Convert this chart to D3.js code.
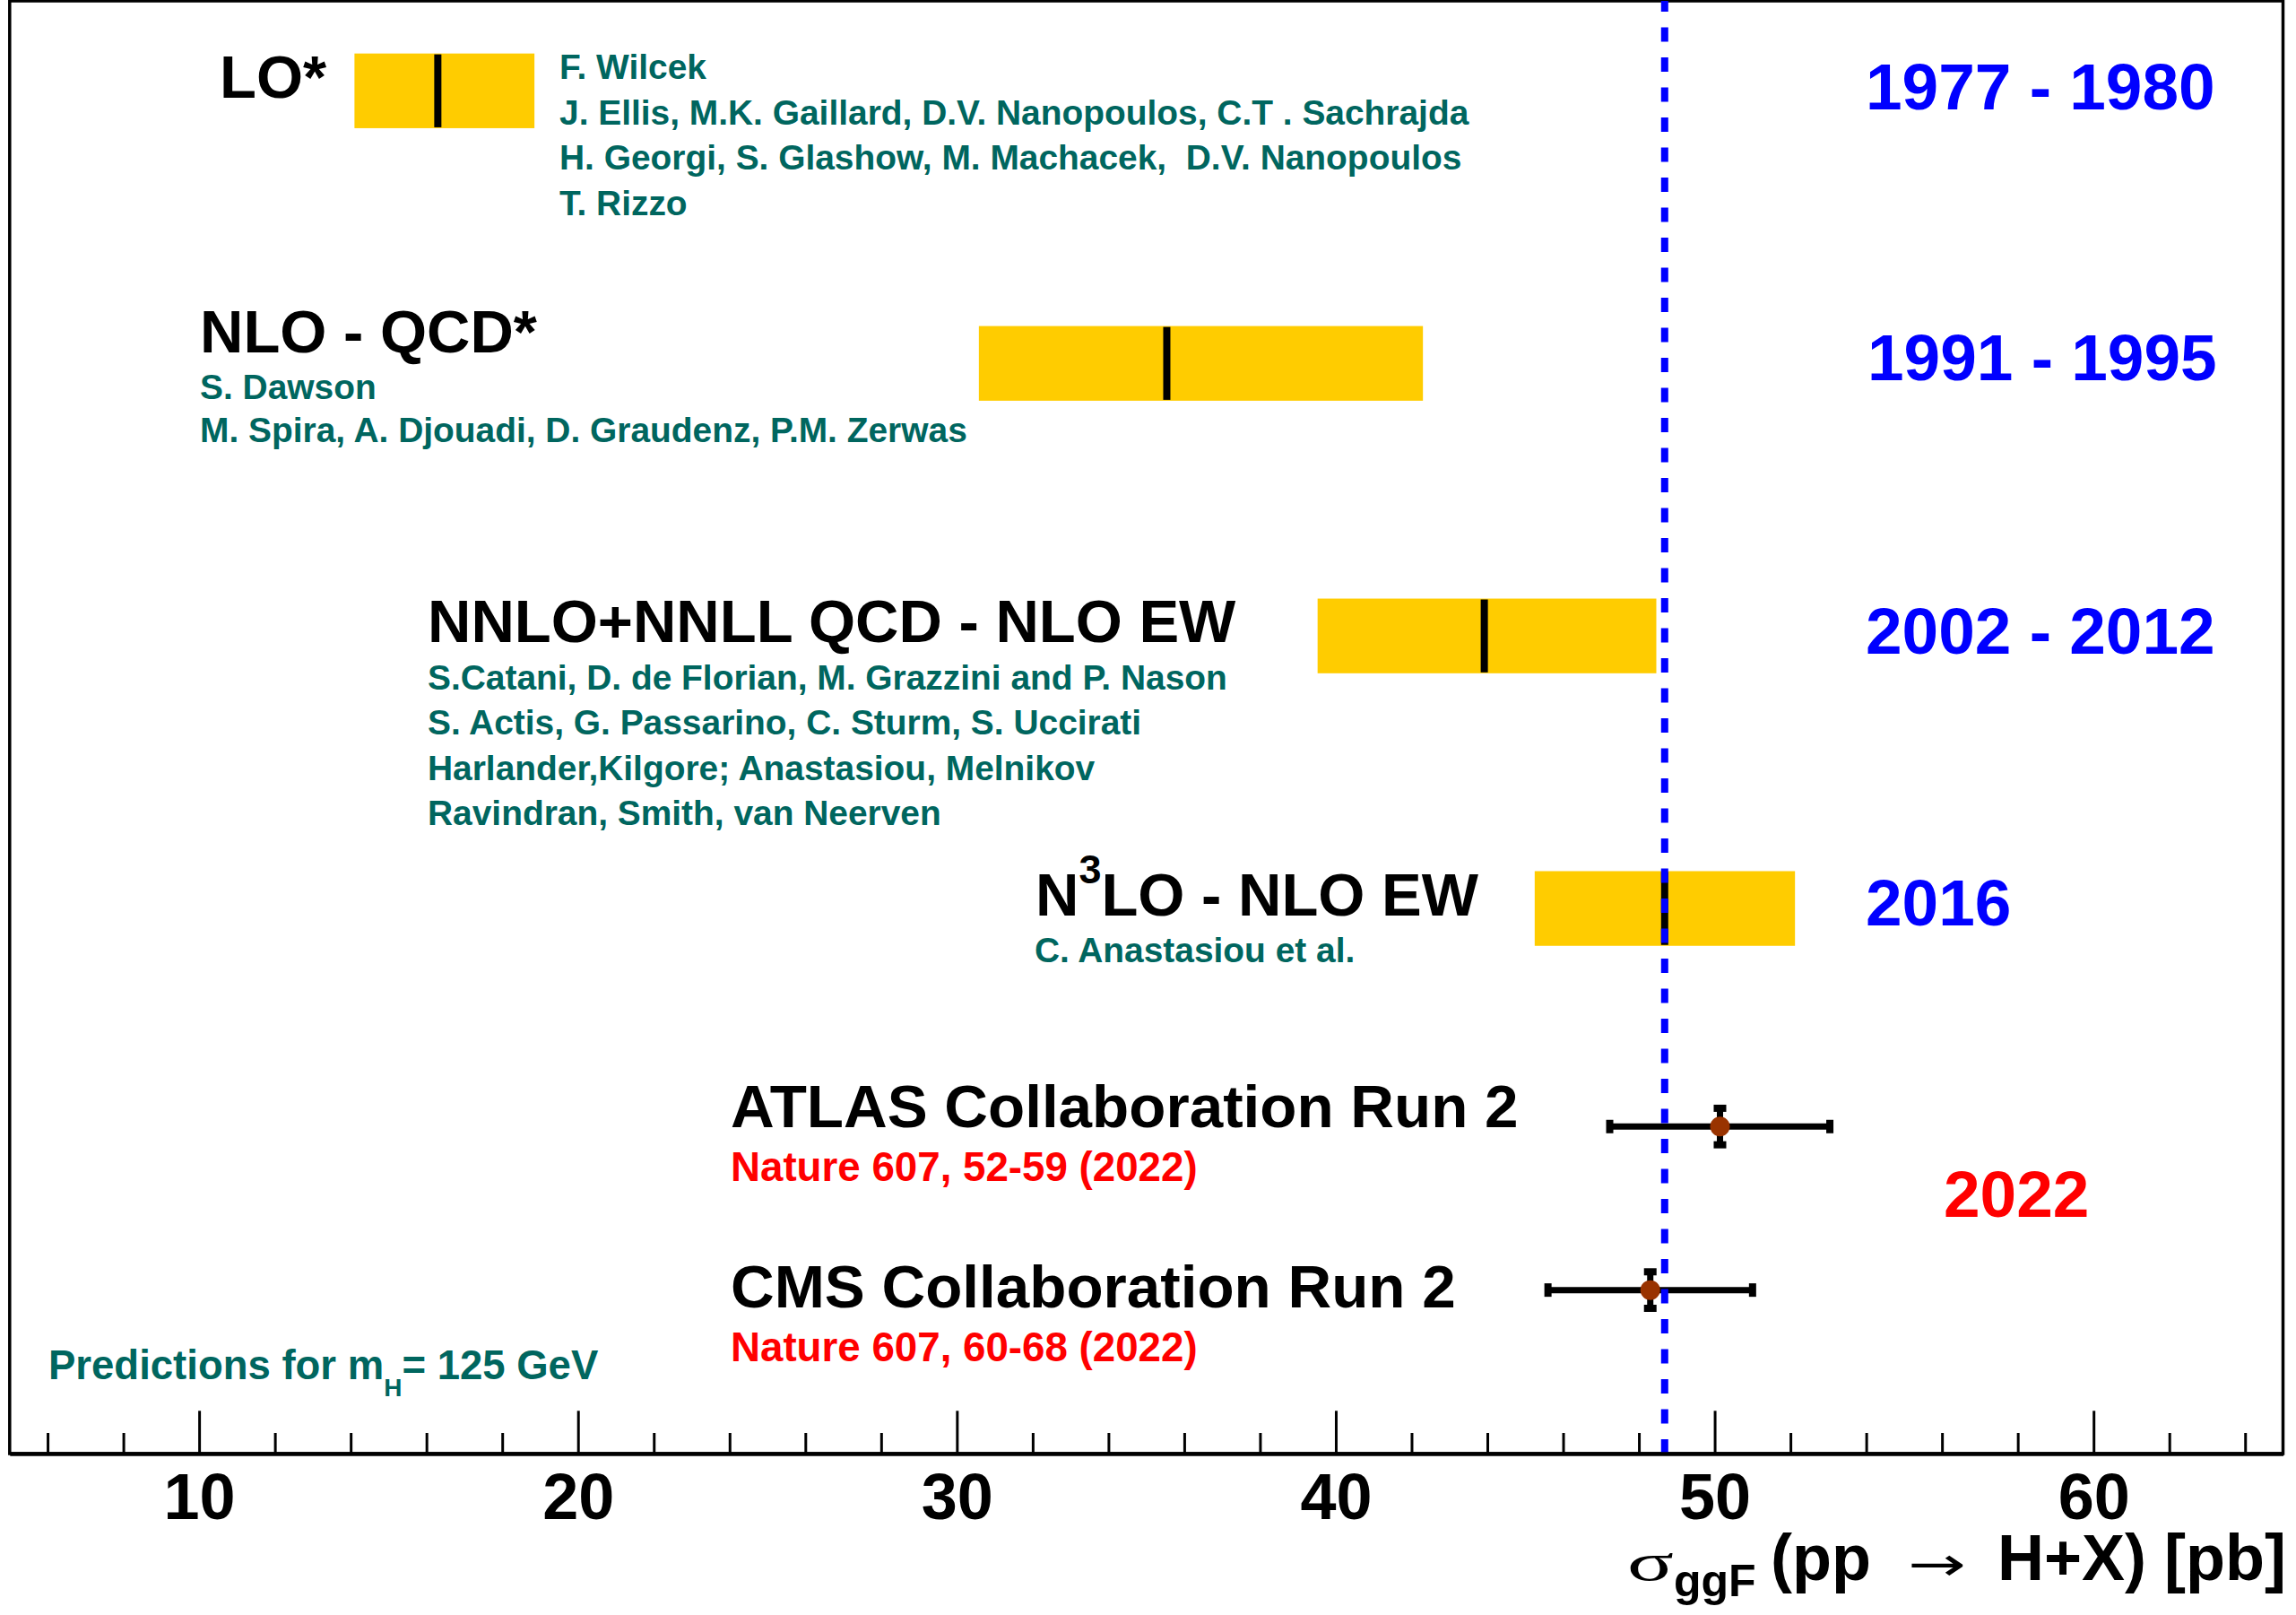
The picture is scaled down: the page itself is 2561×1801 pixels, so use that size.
<!DOCTYPE html>
<html>
<head>
<meta charset="utf-8">
<script src="https://cdn.jsdelivr.net/npm/d3@7"></script>
<style>
  body { margin: 0; background: #fff; }
  svg text { font-family: "Liberation Sans", Arial, Helvetica, sans-serif; font-weight: bold; white-space: pre; }
</style>
</head>
<body>
<div id="chart"></div>
<script>
// theory predictions (yellow bands), values in pb
let predNames = ["LO*", "NLO - QCD*", "NNLO+NNLL QCD - NLO EW", "N3LO - NLO EW"];
let predCentral = [16.3, 35.54, 43.92, 48.68];
let predLow = [14.1, 30.58, 39.52, 45.25];
let predHigh = [18.85, 42.3, 48.46, 52.12];
let predRow = [5, 4, 3, 2];
let predYears = ["1977 - 1980", "1991 - 1995", "2002 - 2012", "2016"];
let predAuthors = [
    ["F. Wilcek", "J. Ellis, M.K. Gaillard, D.V. Nanopoulos, C.T . Sachrajda",
     "H. Georgi, S. Glashow, M. Machacek,  D.V. Nanopoulos", "T. Rizzo"],
    ["S. Dawson", "M. Spira, A. Djouadi, D. Graudenz, P.M. Zerwas"],
    ["S.Catani, D. de Florian, M. Grazzini and P. Nason", "S. Actis, G. Passarino, C. Sturm, S. Uccirati",
     "Harlander,Kilgore; Anastasiou, Melnikov", "Ravindran, Smith, van Neerven"],
    ["C. Anastasiou et al."]
];

// measurements (points with error bars)
let measNames = ["ATLAS Collaboration Run 2", "CMS Collaboration Run 2"];
let measRefs = ["Nature 607, 52-59 (2022)", "Nature 607, 60-68 (2022)"];
let measValue = [50.14, 48.3];
let measErrLow = [2.91, 2.7];
let measErrHigh = [2.9, 2.7];
let measErrY = [0.067, 0.067];
let measRow = [1.2, 0.6];
let measYear = "2022";

let refValue = 48.68; // dashed vertical line
let xMajorTicks = [10, 20, 30, 40, 50, 60];
let xMinorTicks = [6, 8, 12, 14, 16, 18, 22, 24, 26, 28, 32, 34, 36, 38, 42, 44, 46, 48, 52, 54, 56, 58, 62, 64];

// layout (pixels)
let W = 2561, H = 1801;
let frame = {left: 10.8, right: 2546.5, top: 1, bottom: 1621};
let teal = "#00665f";
let barHalf = 0.137;

let titlePos = [[245, 109], [223, 393], [477, 716], [1155, 1021]];
let authorPos = [[624, 88, 50.7], [223, 445, 48.3], [477, 769, 50.3], [1154, 1073, 50]];
let yearPos = [[2081, 122], [2083, 424], [2081, 728.5], [2081, 1032]];
let measTitlePos = [[815, 1257], [815, 1458]];
let measRefPos = [[815, 1317], [815, 1518]];

let x = d3.scaleLinear().domain([5, 65]).range([frame.left, frame.right]);
let y = d3.scaleLinear().domain([0, 5.33]).range([frame.bottom, frame.top]);

let svg = d3.select("#chart").append("svg")
    .attr("width", W)
    .attr("height", H)
    .style("background", "#fff");

// frame
svg.append("rect")
    .attr("x", frame.left).attr("y", frame.top)
    .attr("width", frame.right - frame.left).attr("height", frame.bottom - frame.top)
    .attr("fill", "none").attr("stroke", "#000").attr("stroke-width", 3.5);

// bands
let pred = predNames.map((n, i) => ({name: n, c: predCentral[i], lo: predLow[i], hi: predHigh[i], row: predRow[i]}));

svg.selectAll("rect.band").data(pred).enter().append("rect")
    .attr("class", "band")
    .attr("x", d => x(d.lo))
    .attr("width", d => x(d.hi) - x(d.lo))
    .attr("y", d => y(d.row + barHalf))
    .attr("height", d => y(d.row - barHalf) - y(d.row + barHalf))
    .attr("fill", "#ffcc00");

svg.selectAll("line.central").data(pred).enter().append("line")
    .attr("class", "central")
    .attr("x1", d => x(d.c)).attr("x2", d => x(d.c))
    .attr("y1", d => y(d.row + barHalf) + 1)
    .attr("y2", d => y(d.row - barHalf) - 1)
    .attr("stroke", "#000").attr("stroke-width", 8);

// measurements
let meas = measNames.map((n, i) => ({name: n, v: measValue[i], lo: measValue[i] - measErrLow[i],
    hi: measValue[i] + measErrHigh[i], ey: measErrY[i], row: measRow[i]}));

let mg = svg.selectAll("g.meas").data(meas).enter().append("g").attr("class", "meas");

mg.append("line")
    .attr("x1", d => x(d.lo)).attr("x2", d => x(d.hi))
    .attr("y1", d => y(d.row)).attr("y2", d => y(d.row))
    .attr("stroke", "#000").attr("stroke-width", 7);
mg.append("line")
    .attr("x1", d => x(d.v)).attr("x2", d => x(d.v))
    .attr("y1", d => y(d.row + d.ey)).attr("y2", d => y(d.row - d.ey))
    .attr("stroke", "#000").attr("stroke-width", 7);
// end caps
mg.selectAll("rect.hcap").data(d => [[d.lo, d.row], [d.hi, d.row]]).enter().append("rect")
    .attr("x", d => x(d[0]) - 4).attr("y", d => y(d[1]) - 7.5)
    .attr("width", 8).attr("height", 15).attr("fill", "#000");
mg.selectAll("rect.vcap").data(d => [[d.v, d.row + d.ey], [d.v, d.row - d.ey]]).enter().append("rect")
    .attr("x", d => x(d[0]) - 7).attr("y", d => y(d[1]) - 4)
    .attr("width", 14).attr("height", 8).attr("fill", "#000");

// reference dashed line (drawn from the axis upwards)
svg.append("line")
    .attr("x1", x(refValue)).attr("x2", x(refValue))
    .attr("y1", y(0)).attr("y2", frame.top)
    .attr("stroke", "#0000ff").attr("stroke-width", 8)
    .attr("stroke-dasharray", "16 17.5");

mg.append("circle")
    .attr("cx", d => x(d.v)).attr("cy", d => y(d.row))
    .attr("r", 11).attr("fill", "#993300");

// x axis
let majorAxis = d3.axisBottom(x).tickValues(xMajorTicks).tickSize(-47.7).tickSizeOuter(0).tickPadding(22);
let minorAxis = d3.axisBottom(x).tickValues(xMinorTicks).tickSize(-23).tickSizeOuter(0).tickFormat("");

let gMinor = svg.append("g").attr("transform", "translate(0," + frame.bottom + ")").call(minorAxis);
let gMajor = svg.append("g").attr("transform", "translate(0," + frame.bottom + ")").call(majorAxis);
gMinor.select(".domain").remove();
gMajor.select(".domain").attr("stroke-width", 4.5);
svg.selectAll(".tick line").attr("stroke-width", 3);
gMajor.selectAll(".tick text")
    .attr("font-size", 72).attr("fill", "#000")
    .style("font-family", "'Liberation Sans', Arial, sans-serif").style("font-weight", "bold");

// axis title, pieces placed left to right
let ax = svg.append("g").attr("class", "axis-title");
ax.append("text").attr("x", 1815).attr("y", 1762).attr("font-size", 60)
    .attr("textLength", 52).attr("lengthAdjust", "spacingAndGlyphs")
    .style("font-family", "'Liberation Serif', serif").style("font-weight", "normal")
    .text("σ");
ax.append("text").attr("x", 1867).attr("y", 1780).attr("font-size", 50).text("ggF");
ax.append("text").attr("x", 1975).attr("y", 1762).attr("font-size", 72).text("(pp");
ax.append("text").attr("x", 2128).attr("y", 1762).attr("font-size", 52)
    .attr("textLength", 65).attr("lengthAdjust", "spacingAndGlyphs")
    .style("font-family", "'DejaVu Sans', sans-serif").style("font-weight", "normal")
    .text("→");
ax.append("text").attr("x", 2550).attr("y", 1762).attr("text-anchor", "end").attr("font-size", 72).text("H+X) [pb]");

// prediction titles
pred.forEach((d, i) => {
    let t = svg.append("text").attr("x", titlePos[i][0]).attr("y", titlePos[i][1])
        .attr("font-size", 67).attr("fill", "#000");
    if (d.name.startsWith("N3LO")) {
        t.append("tspan").text("N");
        t.append("tspan").text("3").attr("font-size", 45).attr("dy", -36);
        t.append("tspan").text("LO - NLO EW").attr("dy", 36);
    } else {
        t.text(d.name);
    }

    svg.selectAll(null).data(predAuthors[i]).enter().append("text")
        .attr("x", authorPos[i][0])
        .attr("y", (a, j) => authorPos[i][1] + j * authorPos[i][2])
        .attr("font-size", 38.9).attr("fill", teal)
        .text(a => a);

    svg.append("text").attr("x", yearPos[i][0]).attr("y", yearPos[i][1])
        .attr("font-size", 73).attr("fill", "#0000ff").text(predYears[i]);
});

// measurement titles
meas.forEach((d, i) => {
    svg.append("text").attr("x", measTitlePos[i][0]).attr("y", measTitlePos[i][1])
        .attr("font-size", 67.4).attr("fill", "#000").text(d.name);
    svg.append("text").attr("x", measRefPos[i][0]).attr("y", measRefPos[i][1])
        .attr("font-size", 45.7).attr("fill", "#ff0000").text(measRefs[i]);
});
svg.append("text").attr("x", 2168).attr("y", 1357)
    .attr("font-size", 73).attr("fill", "#ff0000").text(measYear);

// note
let note = svg.append("text").attr("x", 54).attr("y", 1538).attr("font-size", 45.5).attr("fill", teal);
note.append("tspan").text("Predictions for m");
note.append("tspan").text("H").attr("font-size", 28).attr("dy", 19);
note.append("tspan").text("= 125 GeV").attr("dy", -19);
</script>
</body>
</html>
